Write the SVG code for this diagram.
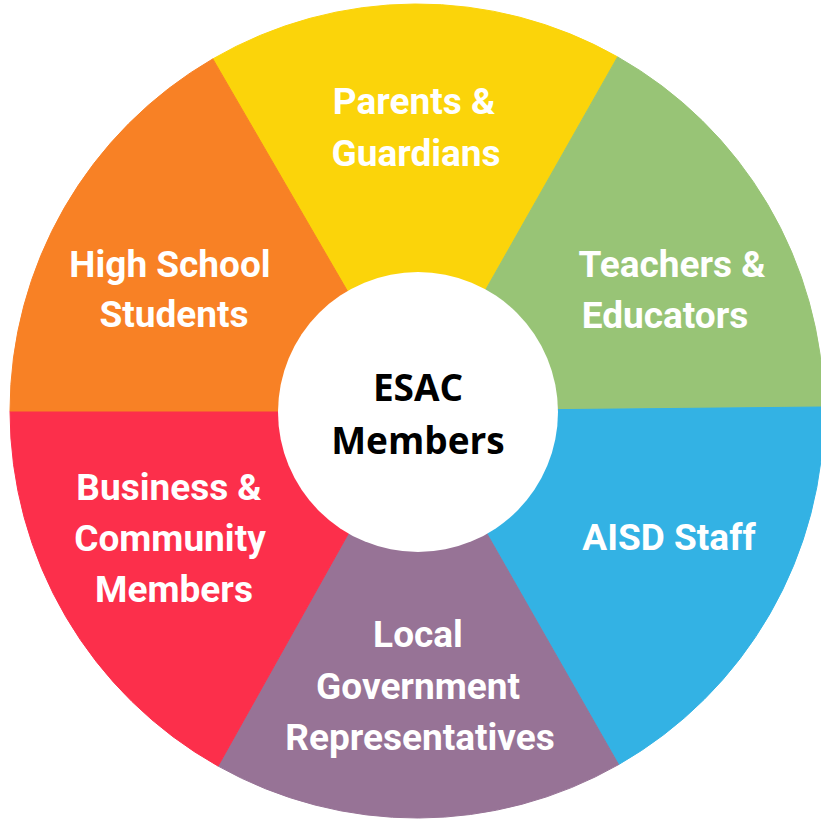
<svg xmlns="http://www.w3.org/2000/svg" width="821" height="819" viewBox="0 0 821 819">
  <style>
    .seg { stroke-width: 1; }
    .lbl { font-family: Roboto, "Liberation Sans", Arial, sans-serif; font-weight: 700; font-size: 37px; fill: #FFFFFF; text-anchor: middle; }
    .ctr { font-family: "Open Sans", "Liberation Sans", Arial, sans-serif; font-weight: 700; font-size: 37px; fill: #000000; text-anchor: middle; }
  </style>
  <rect x="0" y="0" width="821" height="819" fill="#FFFFFF"/>

  <g id="node-parents">
    <path class="seg" d="M417 411 L212.8 58.9 A407 407 0 0 1 617.6 56.9 Z" fill="#FBD40A" stroke="#FBD40A"/>
    <text class="lbl" x="414" y="114">Parents &amp;</text>
    <text class="lbl" x="416" y="166">Guardians</text>
  </g>

  <g id="node-teachers">
    <path class="seg" d="M417 411 L617.6 56.9 A407 407 0 0 1 824 407 Z" fill="#98C476" stroke="#98C476"/>
    <text class="lbl" x="672" y="277">Teachers &amp;</text>
    <text class="lbl" x="665" y="328">Educators</text>
  </g>

  <g id="node-aisd">
    <path class="seg" d="M417 411 L824 407 A407 407 0 0 1 618.6 764.6 Z" fill="#33B2E4" stroke="#33B2E4"/>
    <text class="lbl" x="669" y="550">AISD Staff</text>
  </g>

  <g id="node-government">
    <path class="seg" d="M417 411 L618.6 764.6 A407 407 0 0 1 218.1 766.1 Z" fill="#977396" stroke="#977396"/>
    <text class="lbl" x="418" y="647">Local</text>
    <text class="lbl" x="418" y="699">Government</text>
    <text class="lbl" x="420" y="750">Representatives</text>
  </g>

  <g id="node-business">
    <path class="seg" d="M417 411 L218.1 766.1 A407 407 0 0 1 10 411 Z" fill="#FC2F4B" stroke="#FC2F4B"/>
    <text class="lbl" x="169" y="500">Business &amp;</text>
    <text class="lbl" x="170" y="551">Community</text>
    <text class="lbl" x="174" y="602">Members</text>
  </g>

  <g id="node-students">
    <path class="seg" d="M417 411 L10 411 A407 407 0 0 1 212.8 58.9 Z" fill="#F88125" stroke="#F88125"/>
    <text class="lbl" x="170" y="277">High School</text>
    <text class="lbl" x="174" y="327">Students</text>
  </g>

  <g id="node-center">
    <circle cx="418" cy="412" r="140" fill="#FFFFFF"/>
    <text class="ctr" x="418" y="401">ESAC</text>
    <text class="ctr" x="418" y="454">Members</text>
  </g>
</svg>
